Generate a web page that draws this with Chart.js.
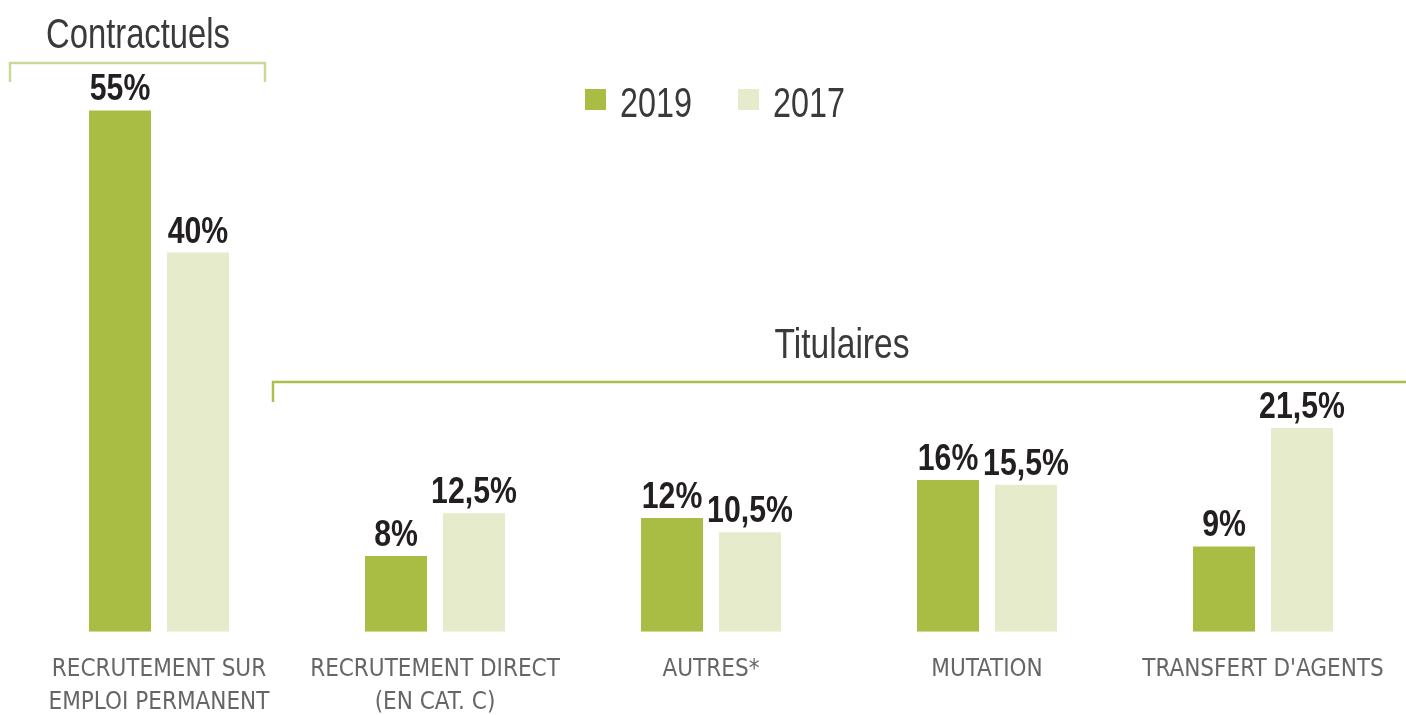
<!DOCTYPE html>
<html>
<head>
<meta charset="utf-8">
<title>Contractuels / Titulaires</title>
<script src="https://cdn.jsdelivr.net/npm/chart.js@4"></script>
<style>
    body { margin: 0; background: #fff; }
    #chart { display: block; }
</style>
</head>
<body>
<canvas id="chart" width="1406" height="715"></canvas>
<script>
const categories = [
    ["RECRUTEMENT SUR", "EMPLOI PERMANENT"],
    ["RECRUTEMENT DIRECT", "(EN CAT. C)"],
    "AUTRES*",
    "MUTATION",
    "TRANSFERT D'AGENTS"
];
const seriesNames = ["2019", "2017"];
const values2019 = [55, 8, 12, 16, 9];
const values2017 = [40, 12.5, 10.5, 15.5, 21.5];

const green = "#a9bd45";
const paleGreen = "#e5ebcb";
const sans = "'Liberation Sans', sans-serif";
const condensed = "'DejaVu Sans Condensed', 'Liberation Sans', sans-serif";

const chart = document.querySelector('#chart');

function formatPct(v) {
    return String(v).replace('.', ',') + '%';
}

// squeeze text horizontally to get a condensed look
function drawNarrow(ctx, text, x, y, sx) {
    ctx.save();
    ctx.translate(x, y);
    ctx.scale(sx, 1);
    ctx.fillText(text, 0, 0);
    ctx.restore();
}

// titles, brackets, legend and value labels drawn over the bars
const decorations = {
    id: 'decorations',
    afterDatasetsDraw(c) {
        const ctx = c.ctx;
        ctx.save();
        ctx.textBaseline = 'alphabetic';

        // group titles
        ctx.fillStyle = '#3a3a3a';
        ctx.font = '42px ' + sans;
        ctx.textAlign = 'center';
        drawNarrow(ctx, 'Contractuels', 138, 48, 0.78);
        drawNarrow(ctx, 'Titulaires', 842, 358, 0.8);

        // brackets
        ctx.lineWidth = 2.5;
        ctx.strokeStyle = '#c9d99a';
        ctx.beginPath();
        ctx.moveTo(10, 82);
        ctx.lineTo(10, 63);
        ctx.lineTo(265, 63);
        ctx.lineTo(265, 82);
        ctx.stroke();

        ctx.strokeStyle = '#a9c04a';
        ctx.beginPath();
        ctx.moveTo(273, 402);
        ctx.lineTo(273, 382);
        ctx.lineTo(1406, 382);
        ctx.stroke();

        // legend
        const legendX = [585, 738];
        c.data.datasets.forEach((ds, i) => {
            ctx.fillStyle = ds.backgroundColor;
            ctx.fillRect(legendX[i], 89, 21, 21);
            ctx.fillStyle = '#3a3a3a';
            ctx.font = '42px ' + sans;
            ctx.textAlign = 'left';
            drawNarrow(ctx, ds.label, legendX[i] + 35, 117, 0.77);
        });

        // value labels
        ctx.fillStyle = '#231f20';
        ctx.font = 'bold 36px ' + sans;
        ctx.textAlign = 'center';
        c.data.datasets.forEach((ds, i) => {
            const meta = c.getDatasetMeta(i);
            meta.data.forEach((bar, j) => {
                drawNarrow(ctx, formatPct(ds.data[j]), bar.x, bar.y - 10, 0.84);
            });
        });

        ctx.restore();
    }
};

const myChart = new Chart(chart, {
    type: 'bar',
    data: {
        labels: categories,
        datasets: [{
            label: seriesNames[0],
            data: values2019,
            backgroundColor: green,
            categoryPercentage: 0.565,
            barPercentage: 0.795
        }, {
            label: seriesNames[1],
            data: values2017,
            backgroundColor: paleGreen,
            categoryPercentage: 0.565,
            barPercentage: 0.795
        }]
    },
    options: {
        responsive: false,
        animation: false,
        layout: {
            padding: { top: 63, left: 21, right: 5, bottom: -26 }
        },
        plugins: {
            legend: { display: false },
            tooltip: { enabled: false }
        },
        scales: {
            x: {
                grid: { display: false, drawTicks: false },
                border: { display: false },
                ticks: {
                    color: '#666666',
                    padding: 21,
                    maxRotation: 0,
                    minRotation: 0,
                    autoSkip: false,
                    font: { family: condensed, size: 24, lineHeight: 1.4 }
                }
            },
            y: {
                display: false,
                min: 0,
                max: 60
            }
        }
    },
    plugins: [decorations]
});
</script>
</body>
</html>
